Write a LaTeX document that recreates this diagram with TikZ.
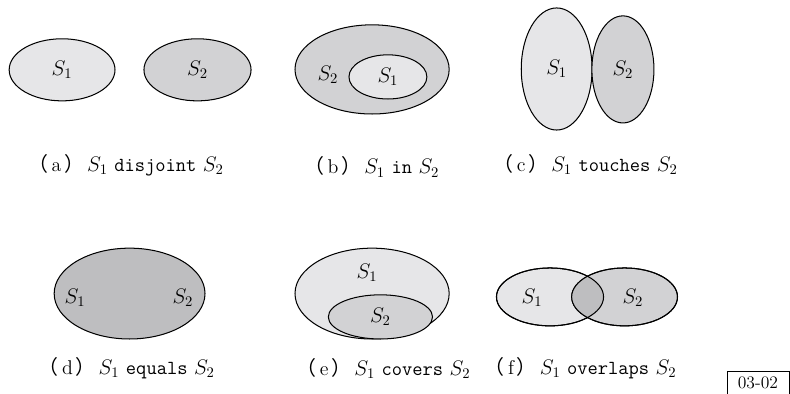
\documentclass[tikz,border=0pt]{standalone}
\usepackage{fontspec}
\usepackage{amsmath}
\usepackage{tikz}
\usetikzlibrary{shapes.geometric}
\newfontfamily\cjk{Noto Sans CJK SC}
\definecolor{lightset}{RGB}{230,230,232}
\definecolor{midset}{RGB}{210,210,212}
\definecolor{darkset}{RGB}{190,190,192}
\newcommand{\subcap}[1]{{\cjk （}\hspace{2.5pt}#1\hspace{2pt}{\cjk ）}\hspace{2pt}}
\newcommand{\figfont}{\fontsize{13.6pt}{16pt}\selectfont}

\begin{document}
\begin{tikzpicture}[
  region/.style={draw, ellipse, line width=0.7pt, inner sep=0pt, font=\figfont},
  setone/.style={region, fill=lightset},
  settwo/.style={region, fill=midset},
  setboth/.style={region, fill=darkset},
  setlabel/.style={inner sep=0pt, font=\figfont},
  captext/.style={font=\figfont},
]
\useasboundingbox (0, 0) rectangle (18.96, 9.456);

% ===== TOP ROW =====
% (a) disjoint
\node[setone, minimum width=2.54cm, minimum height=1.49cm]
  (adis1) at (1.49, 7.78) {$S_1$};
\node[settwo, minimum width=2.57cm, minimum height=1.49cm]
  (adis2) at (4.74, 7.78) {$S_2$};
\node[captext] (capa) at (3.02, 5.50)
  {\subcap{a}$S_1$ \texttt{disjoint} $S_2$};

% (b) in
\node[settwo, minimum width=3.70cm, minimum height=2.14cm]
  (bin2) at (8.93, 7.79) {};
\node[setone, minimum width=1.87cm, minimum height=1.06cm]
  (bin1) at (9.31, 7.61) {$S_1$};
\node[setlabel] (bin2lab) at (7.87, 7.66) {$S_2$};
\node[captext] (capb) at (8.92, 5.45) {\subcap{b}$S_1$ \texttt{in} $S_2$};

% (c) touches
\node[setone, minimum width=1.70cm, minimum height=2.93cm]
  (ctou1) at (13.36, 7.80) {$S_1$};
\node[settwo, minimum width=1.49cm, minimum height=2.57cm]
  (ctou2) at (14.95, 7.79) {$S_2$};
\node[captext] (capc) at (14.05, 5.50)
  {\subcap{c}$S_1$ \texttt{touches} $S_2$};

% ===== BOTTOM ROW =====
% (d) equals
\node[setboth, minimum width=3.62cm, minimum height=2.18cm]
  (dequ) at (3.11, 2.41) {};
\node[setlabel] (dequ1) at (1.80, 2.30) {$S_1$};
\node[setlabel] (dequ2) at (4.39, 2.30) {$S_2$};
\node[captext] (capd) at (3.04, 0.62)
  {\subcap{d}$S_1$ \texttt{equals} $S_2$};

% (e) covers
\node[setone, minimum width=3.70cm, minimum height=2.18cm]
  (ecov1) at (8.93, 2.41) {};
\node[settwo, minimum width=2.50cm, minimum height=1.06cm]
  (ecov2) at (9.13, 1.85) {$S_2$};
\node[setlabel] (ecov1lab) at (8.81, 2.90) {$S_1$};
\node[captext] (cape) at (9.20, 0.62)
  {\subcap{e}$S_1$ \texttt{covers} $S_2$};

% (f) overlaps
\node[setone, minimum width=2.57cm, minimum height=1.39cm]
  (fove1) at (13.20, 2.33) {};
\node[settwo, minimum width=2.54cm, minimum height=1.39cm]
  (fove2) at (14.99, 2.33) {};
\begin{scope}
  \clip (fove1.center) ellipse [x radius=1.285cm, y radius=0.695cm];
  \fill[darkset] (fove2.center) ellipse [x radius=1.27cm, y radius=0.695cm];
\end{scope}
\draw[line width=0.7pt] (fove1.center) ellipse [x radius=1.285cm, y radius=0.695cm];
\draw[line width=0.7pt] (fove2.center) ellipse [x radius=1.27cm, y radius=0.695cm];
\node[setlabel] (fove1lab) at (12.77, 2.30) {$S_1$};
\node[setlabel] (fove2lab) at (15.19, 2.30) {$S_2$};
\node[captext] (capf) at (13.93, 0.62)
  {\subcap{f}$S_1$ \texttt{overlaps} $S_2$};

% figure number
\node[draw, line width=0.5pt, minimum width=1.49cm, inner ysep=4.5pt,
  text height=1.6ex, text depth=0.6cm, anchor=north,
  font=\fontsize{12pt}{14pt}\selectfont] (fignum)
  at (18.19, 0.55) {03-02};

\end{tikzpicture}
\end{document}
